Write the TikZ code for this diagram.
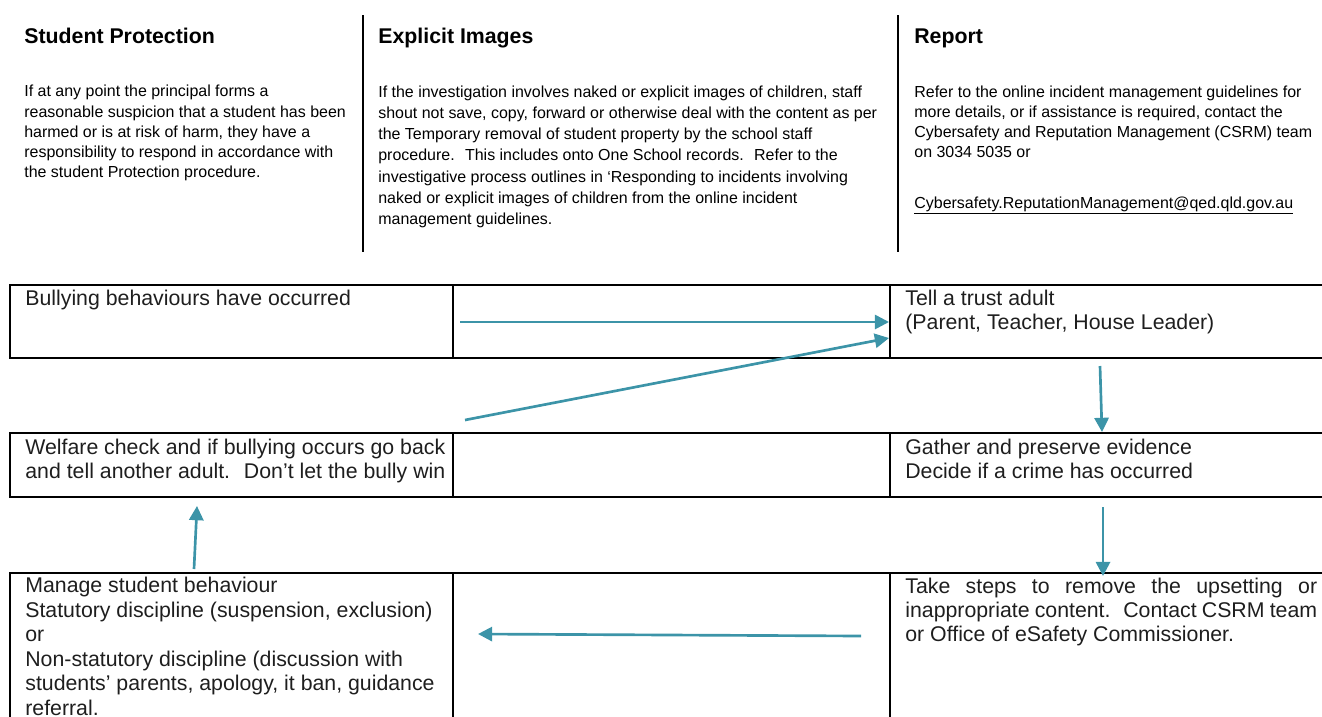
\documentclass[tikz,border=0pt]{standalone}
\usepackage{fontspec}
\setmainfont{Liberation Sans}
\usetikzlibrary{arrows.meta}
\definecolor{flow}{HTML}{3C94A8}
\definecolor{ink}{HTML}{1E1E1E}

% Multi-line nodes are placed by the baseline of their last line.
\begin{document}
\begin{tikzpicture}[x=0.5634pt,y=-0.5634pt,
  head/.style={anchor=base west,inner sep=0,font=\fontsize{12}{14}\selectfont\bfseries},
  note/.style={anchor=base west,inner sep=0,align=left,font=\fontsize{9}{11.3}\selectfont},
  widenote/.style={note,font=\fontsize{9}{12}\selectfont},
  cell/.style={anchor=base west,inner sep=0,align=left,text=ink,font=\fontsize{12}{13.75}\selectfont},
  rule/.style={line width=1.3pt},
  grid/.style={line width=1.1pt},
  flowarrow/.style={draw=flow,line width=1.5pt,-{Triangle[length=8pt,width=8pt]}}]

\useasboundingbox (0,0) rectangle (1322,716);

% ---- information columns ----
\draw[rule] (363,15) -- (363,252);
\draw[rule] (898,15) -- (898,252);

\node[head] (hprot) at (24,43) {Student Protection};
\node[head] (himg) at (378,43) {Explicit Images};
\node[head] (hrep) at (914,43) {Report};

\node[note] (tprot) at (24,177.2) {If at any point the principal forms a\\
reasonable suspicion that a student has been\\
harmed or is at risk of harm, they have a\\
responsibility to respond in accordance with\\
the student Protection procedure.};

\node[widenote] (timg) at (378,224.8) {If the investigation involves naked or explicit images of children, staff\\
shout not save, copy, forward or otherwise deal with the content as per\\
the Temporary removal of student property by the school staff\\
procedure.~ This includes onto One School records.~ Refer to the\\
investigative process outlines in ‘Responding to incidents involving\\
naked or explicit images of children from the online incident\\
management guidelines.};

\node[note] (trep) at (914,157.2) {Refer to the online incident management guidelines for\\
more details, or if assistance is required, contact the\\
Cybersafety and Reputation Management (CSRM) team\\
on 3034 5035 or};
\node[note] (mail) at (914,208) {\underline{Cybersafety.ReputationManagement@qed.qld.gov.au}};

% ---- flow table ----
\draw[grid] (10,285) rectangle (1330,358);
\draw[grid] (453,285) -- (453,358) (890,285) -- (890,358);
\draw[grid] (10,433) rectangle (1330,497);
\draw[grid] (453,433) -- (453,497) (890,433) -- (890,497);
\draw[grid] (10,573) rectangle (1330,740);
\draw[grid] (453,573) -- (453,740) (890,573) -- (890,740);

\node[cell] (bully) at (25,305) {Bullying behaviours have occurred};
\node[cell] (tell) at (905,329.4) {Tell a trust adult\\(Parent, Teacher, House Leader)};
\node[cell] (welfare) at (25,478.4) {Welfare check and if bullying occurs go back\\and tell another adult.~ Don’t let the bully win};
\node[cell] (gather) at (905,478.4) {Gather and preserve evidence\\Decide if a crime has occurred};
\node[cell] (manage) at (25,715) {Manage student behaviour\\
Statutory discipline (suspension, exclusion)\\
or\\
Non-statutory discipline (discussion with\\
students’ parents, apology, it ban, guidance\\
referral.};
\node[cell] (remove) at (905,641.8) {\makebox[232pt][s]{Take steps to remove the upsetting or}\\
\makebox[232pt][s]{inappropriate content.~ Contact CSRM team}\\
or Office of eSafety Commissioner.};

% ---- arrow end points ----
\coordinate (a1s) at (460,322);  \coordinate (a1e) at (889,322);
\coordinate (a2s) at (465,420);  \coordinate (a2e) at (889,338);
\coordinate (a3s) at (1100,366); \coordinate (a3e) at (1102,432);
\coordinate (a4s) at (1103,507); \coordinate (a4e) at (1103,576);
\coordinate (a5s) at (861,636);  \coordinate (a5e) at (478,634);
\coordinate (a6s) at (194,569);  \coordinate (a6e) at (197,506);

\draw[flowarrow] (a1s) -- (a1e);
\draw[flowarrow] (a2s) -- (a2e);
\draw[flowarrow] (a3s) -- (a3e);
\draw[flowarrow] (a4s) -- (a4e);
\draw[flowarrow] (a5s) -- (a5e);
\draw[flowarrow] (a6s) -- (a6e);
\end{tikzpicture}
\end{document}
